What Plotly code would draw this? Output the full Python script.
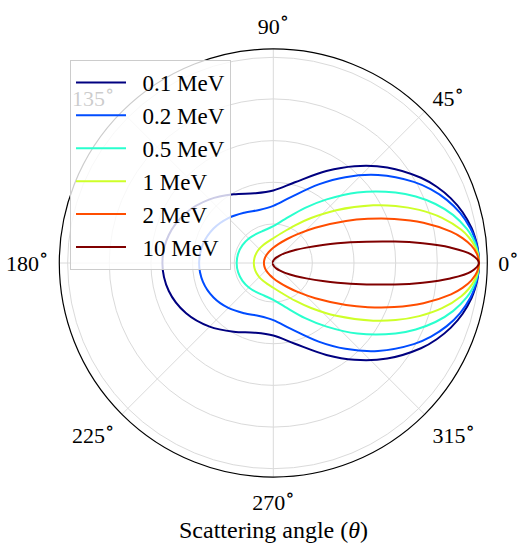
import plotly.graph_objects as go

# Scattering angles (degrees) for the half-plane 0..180; the pattern is symmetric
angles = [0, 2.5, 5, 7.5, 10, 15, 20, 25, 30, 40, 50, 60, 75, 90, 105, 120, 135, 150, 165, 180]

# Normalised Klein-Nishina differential cross section per photon energy
xs_0_1 = [1.0, 0.99868, 0.99472, 0.98817, 0.97910, 0.95377, 0.91974, 0.87836, 0.83118, 0.72638,
          0.61926, 0.52217, 0.41390, 0.36093, 0.35911, 0.39343, 0.44491, 0.49570, 0.53193, 0.54497]
xs_0_2 = [1.0, 0.99830, 0.99324, 0.98488, 0.97333, 0.94132, 0.89885, 0.84801, 0.79116, 0.66911,
          0.55048, 0.44837, 0.34014, 0.28670, 0.27593, 0.29124, 0.31761, 0.34372, 0.36213, 0.36870]
xs_0_5 = [1.0, 0.99719, 0.98883, 0.97512, 0.95639, 0.90565, 0.84098, 0.76739, 0.68987, 0.53947,
          0.41144, 0.31804, 0.23045, 0.18955, 0.17536, 0.17431, 0.17844, 0.18344, 0.18711, 0.18843]
xs_1 = [1.0, 0.99534, 0.98156, 0.95923, 0.92928, 0.85128, 0.75822, 0.66049, 0.56634, 0.40714,
        0.29458, 0.22148, 0.16033, 0.13125, 0.11751, 0.11104, 0.10803, 0.10668, 0.10612, 0.10597]
xs_2 = [1.0, 0.99165, 0.96729, 0.92879, 0.87896, 0.75854, 0.63101, 0.51390, 0.41538, 0.27583,
        0.19373, 0.14554, 0.10594, 0.08526, 0.07348, 0.06637, 0.06196, 0.05928, 0.05783, 0.05737]
xs_10 = [1.0, 0.96300, 0.86514, 0.73631, 0.60546, 0.39589, 0.26528, 0.18731, 0.13905, 0.08587,
         0.05896, 0.04354, 0.03044, 0.02318, 0.01883, 0.01608, 0.01433, 0.01325, 0.01265, 0.012465]

labels = ["0.1 MeV", "0.2 MeV", "0.5 MeV", "1 MeV", "2 MeV", "10 MeV"]
series = [xs_0_1, xs_0_2, xs_0_5, xs_1, xs_2, xs_10]
colors = ["#000080", "#004cff", "#29ffce", "#ceff29", "#ff4d00", "#800000"]

tick_angles = [0, 45, 90, 135, 180, 225, 270, 315]
tick_text = [f"{a}<sup><span style='font-size:19px'>∘</span></sup>" for a in tick_angles]
radial_ticks = [0.2, 0.4, 0.6, 0.8, 1.0]

FONT = "Liberation Serif, DejaVu Serif, serif"


def full_circle(vals):
    theta = angles + [360 - a for a in reversed(angles[:-1])]
    r = vals + list(reversed(vals[:-1]))
    return theta, r


fig = go.Figure()
for name, vals, col in zip(labels, series, colors):
    th, r = full_circle(vals)
    fig.add_trace(go.Scatterpolar(
        r=r, theta=th, mode="lines", name="\u2002" + name,
        line=dict(color=col, width=2, shape="spline", smoothing=1.0),
    ))

W, H = 521, 544
cx, cy, R = 273.3, 263.0, 214.0

fig.update_layout(
    width=W, height=H,
    margin=dict(l=0, r=0, t=0, b=0),
    paper_bgcolor="white",
    font=dict(family=FONT, size=23, color="black"),
    showlegend=True,
    polar=dict(
        domain=dict(x=[(cx - R) / W, (cx + R) / W],
                    y=[(H - cy - R) / H, (H - cy + R) / H]),
        bgcolor="white",
        radialaxis=dict(range=[0.01246, 1.04], tickvals=radial_ticks,
                        showticklabels=False, ticks="", showline=False,
                        gridcolor="#dadada", gridwidth=1),
        angularaxis=dict(rotation=0, direction="counterclockwise",
                         tickvals=tick_angles, ticktext=tick_text,
                         ticks="outside", ticklen=6, tickcolor="rgba(0,0,0,0)",
                         showline=True, linecolor="black", linewidth=1.2,
                         gridcolor="#dadada", gridwidth=1,
                         tickfont=dict(family=FONT, size=22)),
    ),
    legend=dict(
        x=70 / W, y=1 - 60 / H, xanchor="left", yanchor="top",
        bgcolor="rgba(255,255,255,0.8)", bordercolor="#cccccc", borderwidth=1,
        font=dict(family=FONT, size=23), itemwidth=50,
    ),
    annotations=[dict(
        text="Scattering angle (<i>θ</i>)", x=cx / W, y=1 - 530 / H,
        xref="paper", yref="paper", showarrow=False,
        font=dict(family=FONT, size=24), xanchor="center", yanchor="middle",
    )],
)

fig.write_html("out.html")
